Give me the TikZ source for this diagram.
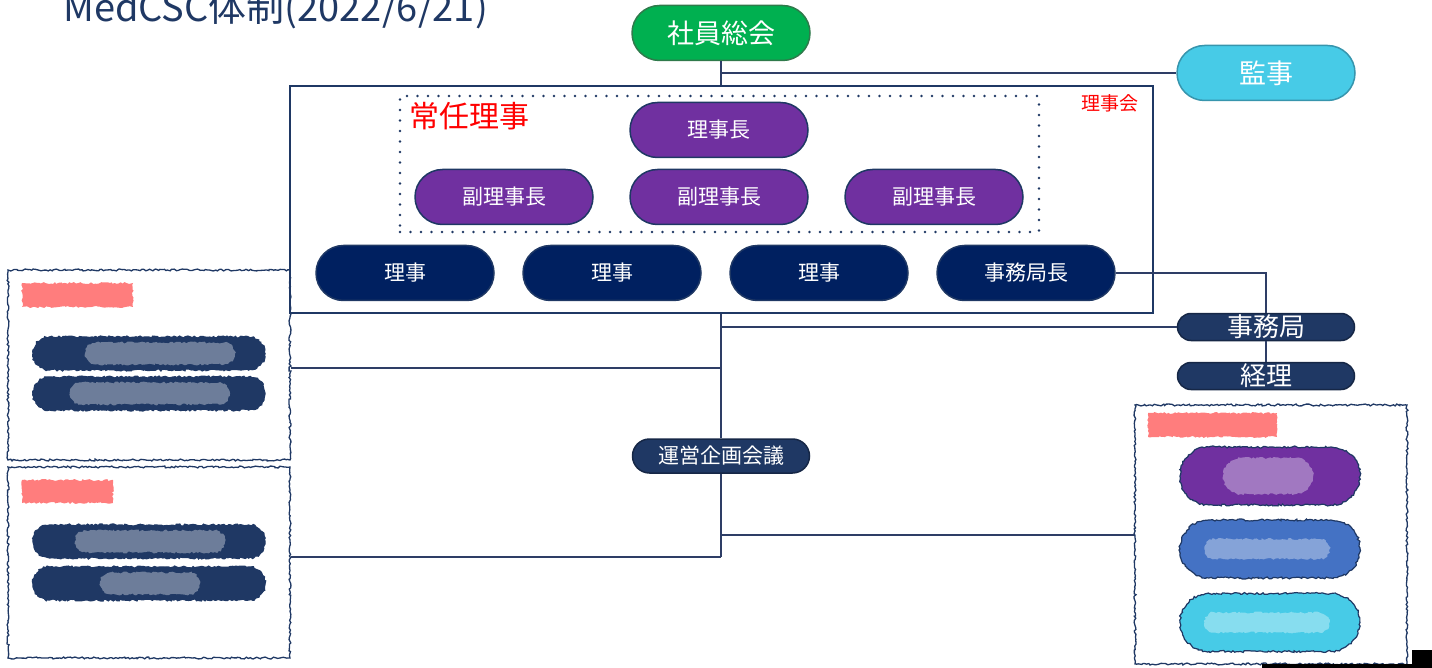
\documentclass[tikz,border=0pt]{standalone}
\usepackage{fontspec}
\setmainfont{Noto Sans CJK JP}
\usetikzlibrary{shapes.misc,decorations.pathmorphing}
\definecolor{navy}{HTML}{1F3864}
\definecolor{dnavy}{HTML}{002060}
\definecolor{purp}{HTML}{7030A0}
\definecolor{grn}{HTML}{00B050}
\definecolor{grnb}{HTML}{2F7A4B}
\definecolor{lblue}{HTML}{47CBE7}
\definecolor{lblueb}{HTML}{3795AD}
\definecolor{mblue}{HTML}{4472C4}
\definecolor{connc}{HTML}{2E3E66}
\begin{document}
\begin{tikzpicture}[x=1pt,y=-1pt,
  fs/.style={font=\fontsize{#1}{#1}\selectfont},
  pill/.style={rounded rectangle, minimum width=178pt, minimum height=55pt, inner sep=0pt,
    line width=1.5pt, text=white},
  conn/.style={draw=connc, line width=1.2pt},
  noisy/.style={decorate, decoration={random steps, segment length=2pt, amplitude=1pt}},
  blurbox/.style={draw=navy, line width=1.3pt, noisy, inner sep=0pt},
  blurpill/.style={rounded rectangle, fill=#1, draw=navy, line width=1.2pt, noisy, inner sep=0pt},
  haze/.style={rounded rectangle, fill=white, opacity=0.35, noisy, inner sep=0pt},
  redscrib/.style={fill=red!85, opacity=0.6, noisy, inner sep=0pt}
]
\useasboundingbox (0,0) rectangle (1432,668);

% title
\node[anchor=base west, text=navy, fs=38, inner sep=0pt] (title) at (63,22) {MedCSC体制(2022/6/21)};

% top nodes
\node[pill, fill=grn, draw=grnb, fs=27] (sha) at (721,33) {社員総会};
\node[pill, fill=lblue, draw=lblueb, fs=27] (kan) at (1266,73) {監事};

% board box
\node[draw=navy, line width=2pt, minimum width=863pt, minimum height=227pt, inner sep=0pt] (board) at (721.5,199.5) {};
\node[text=red, fs=19, inner sep=0pt] (rijikai) at (1110,103) {理事会};

% standing directors dotted box
\node[draw=navy, line width=2.6pt, dash pattern=on 0pt off 10.5pt, line cap=round,
      minimum width=639pt, minimum height=136pt, inner sep=0pt] (jonin) at (719.5,164) {};
\node[text=red, fs=30, anchor=west, inner sep=0pt] (joninlbl) at (409,116) {常任理事};

\node[pill, fill=purp, draw=navy, fs=21] (chair) at (719,130) {理事長};
\node[pill, fill=purp, draw=navy, fs=21] (vice1) at (504,197) {副理事長};
\node[pill, fill=purp, draw=navy, fs=21] (vice2) at (719,197) {副理事長};
\node[pill, fill=purp, draw=navy, fs=21] (vice3) at (934,197) {副理事長};

\node[pill, fill=dnavy, draw=navy, fs=21] (riji1) at (405,273) {理事};
\node[pill, fill=dnavy, draw=navy, fs=21] (riji2) at (612,273) {理事};
\node[pill, fill=dnavy, draw=navy, fs=21] (riji3) at (819,273) {理事};
\node[pill, fill=dnavy, draw=navy, fs=21] (chief) at (1026,273) {事務局長};

% office
\node[pill, minimum width=177pt, minimum height=27pt, fill=navy, draw=navy!70!black, fs=26] (kyoku) at (1266,327) {事務局};
\node[pill, minimum width=177pt, minimum height=27pt, fill=navy, draw=navy!70!black, fs=26] (keiri) at (1266,376) {経理};

% blurred boxes
\node[blurbox, minimum width=282pt, minimum height=190pt] (lbox1) at (149,365) {};
\node[blurbox, minimum width=282pt, minimum height=191pt] (lbox2) at (149,562.5) {};
\node[blurbox, minimum width=272pt, minimum height=259pt] (rbox) at (1271,534.5) {};

\node[redscrib, minimum width=111pt, minimum height=24pt] (r1) at (77.5,295) {};
\node[redscrib, minimum width=91pt, minimum height=23pt] (r2) at (67.5,491.5) {};
\node[redscrib, minimum width=129pt, minimum height=24pt] (r3) at (1212.5,425) {};

\node[blurpill=navy, minimum width=232pt, minimum height=33pt] (lp1) at (149,353.5) {};
\node[haze, minimum width=150pt, minimum height=22pt] (lh1) at (160,353.5) {};
\node[blurpill=navy, minimum width=232pt, minimum height=33pt] (lp2) at (149,393.5) {};
\node[haze, minimum width=160pt, minimum height=22pt] (lh2) at (150,393.5) {};
\node[blurpill=navy, minimum width=232pt, minimum height=33pt] (lp3) at (149,541.5) {};
\node[haze, minimum width=150pt, minimum height=22pt] (lh3) at (150,541.5) {};
\node[blurpill=navy, minimum width=232pt, minimum height=33pt] (lp4) at (149,583.5) {};
\node[haze, minimum width=100pt, minimum height=22pt] (lh4) at (150,583.5) {};

\node[blurpill=purp, minimum width=180pt, minimum height=58pt] (rp1) at (1270,476) {};
\node[haze, minimum width=90pt, minimum height=36pt] (rh1) at (1268,476) {};
\node[blurpill=mblue, minimum width=180pt, minimum height=58pt] (rp2) at (1270,549) {};
\node[haze, minimum width=125pt, minimum height=20pt] (rh2) at (1267,549) {};
\node[blurpill=lblue, minimum width=180pt, minimum height=58pt] (rp3) at (1270,622.5) {};
\node[haze, minimum width=125pt, minimum height=20pt] (rh3) at (1267,622.5) {};

% meeting node
\node[pill, minimum width=177pt, minimum height=34pt, fill=navy, draw=navy!70!black, fs=21] (unei) at (721,456) {運営企画会議};

% connectors
\coordinate (top) at (sha.south |- board.north);
\coordinate (jk) at (sha.south |- kan.west);
\coordinate (bs) at (sha.south |- board.south);
\coordinate (jo) at (sha.south |- kyoku.west);
\coordinate (jl1) at (721,368);
\coordinate (jl2) at (721,557);
\coordinate (jr) at (721,535);
\coordinate (cb) at (kyoku.north |- chief.east);

\draw[conn] (sha.south) -- (top);
\draw[conn] (jk) -- (kan.west);
\draw[conn] (chief.east) -- (cb) -- (kyoku.north);
\draw[conn] (kyoku.south) -- (keiri.north);
\draw[conn] (bs) -- (unei.north);
\draw[conn] (unei.south) -- (jl2);
\draw[conn] (jo) -- (kyoku.west);
\draw[conn] (jl1) -- (lbox1.east |- jl1);
\draw[conn] (jl2) -- (lbox2.east |- jl2);
\draw[conn] (jr) -- (rbox.west |- jr);

% bottom-right corner marks
\fill[black] (1412,650) rectangle (1432,668);
\fill[black] (1262,664) rectangle (1412,668);
\end{tikzpicture}
\end{document}
